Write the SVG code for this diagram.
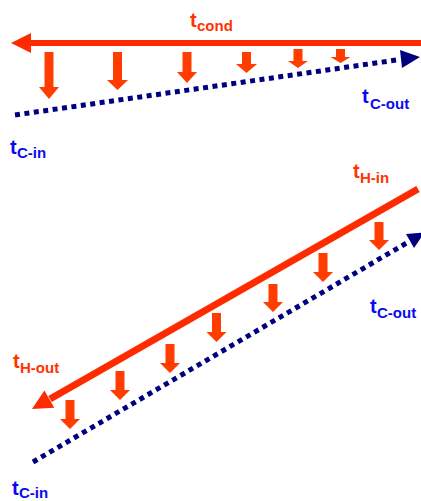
<svg xmlns="http://www.w3.org/2000/svg" width="421" height="501" viewBox="0 0 421 501">
<style>
.hot{stroke:#ff2b00;stroke-width:6;fill:none}
.hothead{fill:#ff2b00}
.cold{stroke:#00007f;stroke-width:5;fill:none;stroke-dasharray:5 4.5}
.coldhead{fill:#00007f}
.heat{fill:#ff3d00}
.t{font-family:"Liberation Sans",Arial,sans-serif;font-weight:bold;font-size:20px}
.s{font-size:15px}
.red{fill:#ff3300}
.blue{fill:#0a0af0}
</style>
<rect width="421" height="501" fill="#ffffff"/>
<g id="connectors">
  <line class="hot" x1="28" y1="43" x2="421" y2="43"/>
  <polygon class="hothead" points="11,43 31,33 31,53"/>
  <line class="cold" x1="15" y1="115" x2="400" y2="59.5"/>
  <polygon class="coldhead" points="420,57 400,50 402,68"/>
  <line class="hot" style="stroke-width:7" x1="418" y1="189" x2="50" y2="399"/>
  <polygon class="hothead" points="32,409 44.4,390.4 54.3,407.8"/>
  <line class="cold" x1="33" y1="462" x2="410" y2="241"/>
  <polygon class="coldhead" points="424.7,232.4 406,234 414,248"/>
</g>
<g id="heat-top">
  <path class="heat" d="M44.5 52 H53.5 V87 H59 L49 99 L39 87 H44.5 Z"/>
  <path class="heat" d="M113 52 H122 V80 H128 L117.5 90 L107 80 H113 Z"/>
  <path class="heat" d="M182.5 52 H191.5 V72 H197 L187 83 L177 72 H182.5 Z"/>
  <path class="heat" d="M242 52 H251 V64 H257 L246.5 73 L236 64 H242 Z"/>
  <path class="heat" d="M293.5 49 H302.5 V61 H308 L298 68 L288 61 H293.5 Z"/>
  <path class="heat" d="M336 49 H345 V57 H350.5 L340.5 63 L330.5 57 H336 Z"/>
</g>
<g id="heat-bottom">
  <path class="heat" d="M374.5 222 H383.5 V240 H389 L379 250 L369 240 H374.5 Z"/>
  <path class="heat" d="M318.5 253 H327.5 V272 H333 L323 282 L313 272 H318.5 Z"/>
  <path class="heat" d="M268.5 284 H277.5 V302 H283 L273 312 L263 302 H268.5 Z"/>
  <path class="heat" d="M212 313 H221 V332 H226.5 L216.5 342 L206.5 332 H212 Z"/>
  <path class="heat" d="M165.5 344 H174.5 V363 H180 L170 373 L160 363 H165.5 Z"/>
  <path class="heat" d="M115.5 371 H124.5 V390 H130 L120 400 L110 390 H115.5 Z"/>
  <path class="heat" d="M65.5 400 H74.5 V419 H80 L70 429 L60 419 H65.5 Z"/>
</g>
<g id="label-tcond"><text class="t red" x="190" y="27">t<tspan class="s" x="197" y="31">cond</tspan></text></g>
<g id="label-tcout-top"><text class="t blue" x="362" y="103">t<tspan class="s" x="370" y="109">C-out</tspan></text></g>
<g id="label-tcin-top"><text class="t blue" x="10" y="154">t<tspan class="s" x="17" y="158">C-in</tspan></text></g>
<g id="label-thin"><text class="t red" x="353" y="178">t<tspan class="s" x="360" y="183">H-in</tspan></text></g>
<g id="label-tcout-bottom"><text class="t blue" x="370" y="313">t<tspan class="s" x="377" y="318">C-out</tspan></text></g>
<g id="label-thout"><text class="t red" x="13" y="368">t<tspan class="s" x="20" y="373">H-out</tspan></text></g>
<g id="label-tcin-bottom"><text class="t blue" x="12" y="495">t<tspan class="s" x="19" y="498">C-in</tspan></text></g>
</svg>
